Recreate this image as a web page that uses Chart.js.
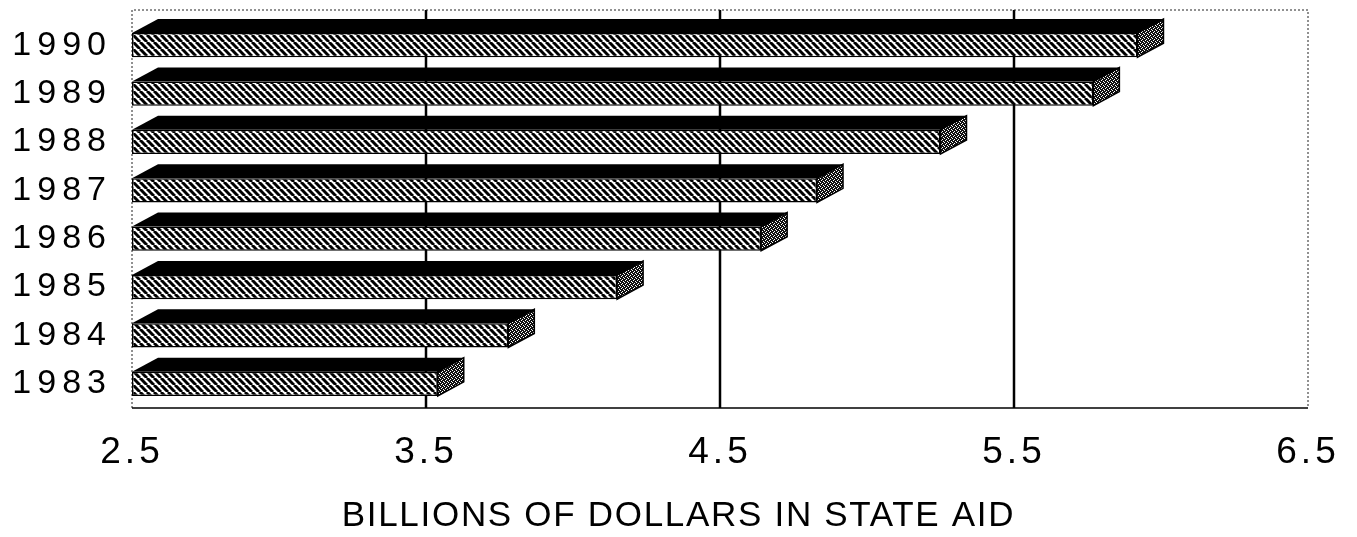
<!DOCTYPE html>
<html>
<head>
<meta charset="utf-8">
<script src="https://cdn.jsdelivr.net/npm/chart.js@4.4.1/dist/chart.umd.min.js"></script>
<style>
  html, body { margin: 0; padding: 0; background: #fff; }
  #wrap { width: 1357px; height: 537px; }
</style>
</head>
<body>
<div id="wrap"><canvas id="aidChart"></canvas></div>
<script>
var years = ['1990', '1989', '1988', '1987', '1986', '1985', '1984', '1983'];
var stateAid = [5.92, 5.77, 5.25, 4.83, 4.64, 4.15, 3.78, 3.54];
var xTicks = [2.5, 3.5, 4.5, 5.5, 6.5];
var axisTitle = 'BILLIONS OF DOLLARS IN STATE AID';

var canvas = document.getElementById('aidChart');
var mainCtx = canvas.getContext('2d');

// diagonal hatch for the bar fronts
function makeHatch() {
    var p = 7;
    var c = document.createElement('canvas');
    c.width = p; c.height = p;
    var g = c.getContext('2d');
    g.fillStyle = '#fff';
    g.fillRect(0, 0, p, p);
    g.strokeStyle = '#000';
    g.lineWidth = 3;
    for (var k = -1; k <= 1; k++) {
        g.beginPath();
        g.moveTo(k * p, 0);
        g.lineTo(k * p + p, p);
        g.stroke();
    }
    return mainCtx.createPattern(c, 'repeat');
}

// grainy dark fill for the bar ends
function makeStipple() {
    var c = document.createElement('canvas');
    c.width = 4; c.height = 4;
    var g = c.getContext('2d');
    g.fillStyle = '#111';
    g.fillRect(0, 0, 4, 4);
    g.fillStyle = '#fff';
    g.fillRect(1, 0, 1, 1);
    g.fillRect(3, 1, 1, 1);
    g.fillRect(0, 2, 1, 1);
    g.fillRect(2, 3, 1, 1);
    return mainCtx.createPattern(c, 'repeat');
}

var hatch = makeHatch();
var stipple = makeStipple();
var depthX = 26, depthY = 14, frameLift = 11;

// letter spacing (and optional sideways shift) for one scale drawing step
function spaced(obj, name, px, shift) {
    if (obj['_spaced_' + name]) return;
    var orig = obj[name];
    obj[name] = function() {
        var ctx = this.ctx;
        ctx.save();
        ctx.letterSpacing = px;
        if (shift) ctx.translate(shift(this), 0);
        orig.apply(this, arguments);
        ctx.restore();
    };
    obj['_spaced_' + name] = true;
}

var bar3d = {
    id: 'bar3d',
    afterLayout: function(chart) {
        spaced(chart.scales.y, 'drawLabels', '6px');
        spaced(chart.scales.x, 'drawLabels', '4px');
        spaced(chart.scales.x, 'drawTitle', '1.7px', function(s) {
            return s.chart.width / 2 - (s.left + s.right) / 2;
        });
    },
    beforeDatasetsDraw: function(chart) {
        var ctx = chart.ctx, a = chart.chartArea, xs = chart.scales.x;
        var top = a.top - frameLift;
        ctx.save();
        ctx.strokeStyle = '#000';
        ctx.lineWidth = 2.5;
        xs.ticks.forEach(function(t) {
            if (t.value <= xs.min || t.value >= xs.max) return;
            var px = xs.getPixelForValue(t.value);
            ctx.beginPath();
            ctx.moveTo(px, top);
            ctx.lineTo(px, a.bottom);
            ctx.stroke();
        });
        // dotted frame
        ctx.lineWidth = 1;
        ctx.strokeStyle = '#222';
        ctx.setLineDash([2, 2]);
        ctx.beginPath();
        ctx.moveTo(a.left, a.bottom);
        ctx.lineTo(a.left, top);
        ctx.lineTo(a.right, top);
        ctx.lineTo(a.right, a.bottom);
        ctx.stroke();
        ctx.setLineDash([]);
        ctx.lineWidth = 1.5;
        ctx.strokeStyle = '#000';
        ctx.beginPath();
        ctx.moveTo(a.left, a.bottom);
        ctx.lineTo(a.right, a.bottom);
        ctx.stroke();
        ctx.restore();
    },
    afterDatasetsDraw: function(chart) {
        var ctx = chart.ctx;
        ctx.save();
        chart.getDatasetMeta(0).data.forEach(function(bar) {
            var p = bar.getProps(['x', 'y', 'base', 'height'], true);
            var l = p.base, r = p.x, t = p.y - p.height / 2, b = p.y + p.height / 2;
            // top face
            ctx.fillStyle = '#000';
            ctx.beginPath();
            ctx.moveTo(l, t);
            ctx.lineTo(l + depthX, t - depthY);
            ctx.lineTo(r + depthX, t - depthY);
            ctx.lineTo(r, t);
            ctx.closePath();
            ctx.fill();
            // end face
            ctx.fillStyle = stipple;
            ctx.strokeStyle = '#000';
            ctx.lineWidth = 1.5;
            ctx.beginPath();
            ctx.moveTo(r, t);
            ctx.lineTo(r + depthX, t - depthY);
            ctx.lineTo(r + depthX, b - depthY);
            ctx.lineTo(r, b);
            ctx.closePath();
            ctx.fill();
            ctx.stroke();
        });
        ctx.restore();
    }
};

new Chart(canvas, {
    type: 'bar',
    data: {
        labels: years,
        datasets: [{
            data: stateAid,
            base: xTicks[0],
            backgroundColor: hatch,
            borderColor: '#000',
            borderWidth: 1.5,
            borderSkipped: false,
            barPercentage: 0.5,
            categoryPercentage: 1.0
        }]
    },
    options: {
        indexAxis: 'y',
        responsive: true,
        maintainAspectRatio: false,
        animation: false,
        layout: { padding: { top: 21, right: 49, left: 0, bottom: 0 } },
        plugins: {
            legend: { display: false },
            tooltip: { enabled: false }
        },
        scales: {
            x: {
                min: xTicks[0],
                max: xTicks[xTicks.length - 1],
                afterBuildTicks: function(s) {
                    s.ticks = xTicks.map(function(v) { return { value: v }; });
                },
                afterFit: function(s) { s.height = 129; },
                grid: { display: false },
                border: { display: false },
                ticks: {
                    color: '#000',
                    padding: 15,
                    maxRotation: 0,
                    autoSkip: false,
                    font: { family: 'Liberation Sans', size: 37 },
                    callback: function(v) { return v.toFixed(1); }
                },
                title: {
                    display: true,
                    text: axisTitle,
                    color: '#000',
                    padding: { top: 0, bottom: 0 },
                    font: { family: 'Liberation Sans', size: 35 }
                }
            },
            y: {
                afterFit: function(s) {
                    s.width = 132;
                    s.paddingTop = 0;
                    s.paddingBottom = 0;
                },
                grid: { display: false },
                border: { display: false },
                ticks: {
                    color: '#000',
                    padding: 12,
                    font: { family: 'Liberation Sans', size: 34 }
                }
            }
        }
    },
    plugins: [bar3d]
});
</script>
</body>
</html>
